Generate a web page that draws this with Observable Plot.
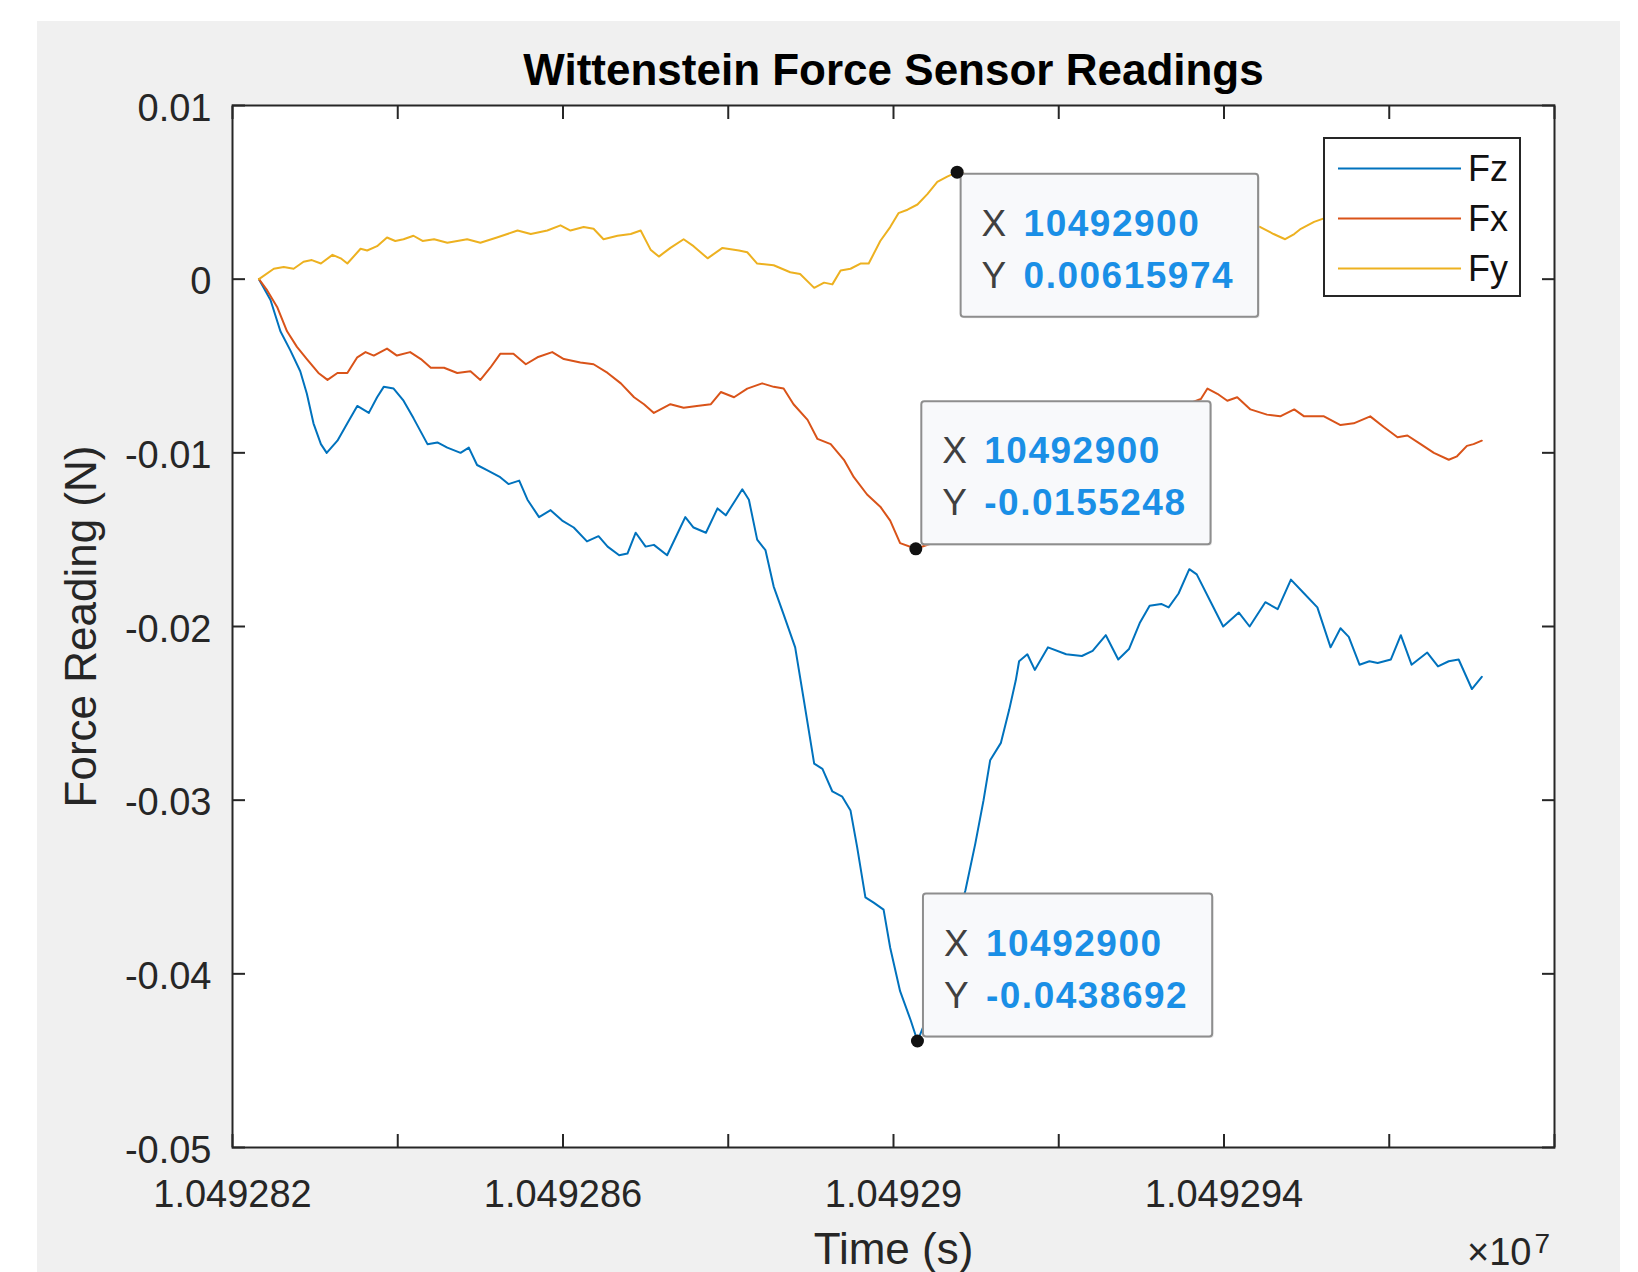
<!DOCTYPE html>
<html>
<head>
<meta charset="utf-8">
<script src="https://cdn.jsdelivr.net/npm/d3@7"></script>
<script src="https://cdn.jsdelivr.net/npm/@observablehq/plot@0.6"></script>
<style>
  html, body { margin: 0; padding: 0; background: #ffffff; }
  #bg { position: absolute; left: 37px; top: 21px; width: 1583px; height: 1251px; background: #f0f0f0; }
  #chart { position: absolute; left: 0; top: 0; }
</style>
</head>
<body>
<div id="bg"></div>
<div id="chart"></div>
<script>
// ---------------- data ----------------
const chartTitle = "Wittenstein Force Sensor Readings";
const xLabel = "Time (s)";
const yLabel = "Force Reading (N)";
const seriesNames = ["Fz", "Fx", "Fy"];
const seriesColors = ["#0072BD", "#D95319", "#EDB120"];

// [time (s), force (N)]
const fzReadings = [
  [10492823.2, 0], [10492824.6, -0.0012], [10492825.8, -0.0030], [10492827.0, -0.0041], [10492828.2, -0.0053],
  [10492829.0, -0.0066], [10492829.8, -0.0083], [10492830.7, -0.0095], [10492831.4, -0.0100], [10492832.7, -0.0093],
  [10492833.9, -0.0083], [10492835.1, -0.0073], [10492836.5, -0.0077], [10492837.5, -0.0068], [10492838.3, -0.0062],
  [10492839.5, -0.0063], [10492840.7, -0.0070], [10492841.9, -0.0080], [10492843.6, -0.0095], [10492844.8, -0.0094],
  [10492846.0, -0.0097], [10492847.6, -0.0100], [10492848.6, -0.0097], [10492849.6, -0.0107], [10492850.8, -0.0110],
  [10492852.4, -0.0114], [10492853.4, -0.0118], [10492854.7, -0.0116], [10492855.7, -0.0127], [10492857.1, -0.0137],
  [10492858.5, -0.0133], [10492859.9, -0.0139], [10492861.3, -0.0143], [10492862.9, -0.0151], [10492864.3, -0.0148],
  [10492865.4, -0.0154], [10492866.8, -0.0159], [10492867.8, -0.0158], [10492868.8, -0.0146], [10492870.0, -0.0154],
  [10492871.0, -0.0153], [10492872.6, -0.0159], [10492873.8, -0.0147], [10492874.8, -0.0137], [10492875.8, -0.0143],
  [10492877.3, -0.0146], [10492878.7, -0.0132], [10492879.7, -0.0136], [10492880.9, -0.0127], [10492881.7, -0.0121],
  [10492882.5, -0.0127], [10492883.5, -0.0150], [10492884.5, -0.0156], [10492885.5, -0.0177], [10492886.7, -0.0193],
  [10492888.1, -0.0212], [10492889.1, -0.0241], [10492890.4, -0.0279], [10492891.4, -0.0282], [10492892.6, -0.0295],
  [10492893.8, -0.0298], [10492894.8, -0.0306], [10492895.6, -0.0327], [10492896.6, -0.0356], [10492897.6, -0.0359],
  [10492898.8, -0.0363], [10492899.6, -0.0385], [10492900.8, -0.0410], [10492902.1, -0.0427], [10492902.9, -0.0438692],
  [10492904.5, -0.0420], [10492906.0, -0.0395], [10492907.5, -0.0372], [10492908.7, -0.0352], [10492909.9, -0.0325],
  [10492910.9, -0.0300], [10492911.7, -0.0277], [10492913.0, -0.0267], [10492914.0, -0.0248], [10492914.8, -0.0231],
  [10492915.2, -0.0220], [10492916.2, -0.0216], [10492917.1, -0.0225], [10492918.7, -0.0212], [10492920.9, -0.0216],
  [10492922.8, -0.0217], [10492924.1, -0.0214], [10492925.7, -0.0205], [10492927.2, -0.0219], [10492928.5, -0.0213],
  [10492929.8, -0.0198], [10492931.0, -0.0188], [10492932.4, -0.0187], [10492933.3, -0.0189], [10492934.5, -0.0181],
  [10492935.8, -0.0167], [10492936.7, -0.0170], [10492938.3, -0.0185], [10492939.9, -0.0200], [10492941.8, -0.0192],
  [10492943.1, -0.0200], [10492945.0, -0.0186], [10492946.5, -0.0190], [10492948.1, -0.0173], [10492949.7, -0.0181],
  [10492951.3, -0.0189], [10492952.9, -0.0212], [10492954.1, -0.0201], [10492955.1, -0.0206], [10492956.4, -0.0222],
  [10492957.6, -0.0220], [10492958.6, -0.0221], [10492960.2, -0.0219], [10492961.4, -0.0205], [10492962.7, -0.0222],
  [10492964.6, -0.0215], [10492965.9, -0.0223], [10492967.2, -0.0220], [10492968.4, -0.0219], [10492970.0, -0.0236],
  [10492971.2, -0.0229]
];

const fxReadings = [
  [10492823.2, 0], [10492824.2, -0.00065], [10492825.4, -0.0016], [10492826.6, -0.0030], [10492827.8, -0.0039],
  [10492829.0, -0.0046], [10492830.4, -0.0054], [10492831.5, -0.0058], [10492832.7, -0.0054], [10492833.9, -0.0054],
  [10492835.1, -0.0045], [10492836.1, -0.0042], [10492837.1, -0.0044], [10492838.7, -0.0040], [10492839.9, -0.0044],
  [10492841.5, -0.0042], [10492842.8, -0.0046], [10492844.0, -0.0051], [10492845.6, -0.0051], [10492847.2, -0.0054],
  [10492848.8, -0.0053], [10492850.0, -0.0058], [10492851.2, -0.0051], [10492852.4, -0.0043], [10492854.0, -0.0043],
  [10492855.5, -0.0049], [10492856.9, -0.0045], [10492858.7, -0.0042], [10492860.1, -0.0046], [10492862.1, -0.0048],
  [10492863.7, -0.0049], [10492865.4, -0.0054], [10492867.0, -0.0060], [10492868.6, -0.0068], [10492869.8, -0.0072],
  [10492871.0, -0.0077], [10492871.8, -0.0075], [10492873.0, -0.0072], [10492874.6, -0.0074], [10492876.2, -0.0073],
  [10492877.9, -0.0072], [10492879.1, -0.0065], [10492880.7, -0.0068], [10492882.3, -0.0063], [10492884.1, -0.0060],
  [10492885.5, -0.0062], [10492886.7, -0.0063], [10492887.9, -0.0072], [10492889.6, -0.0081], [10492890.8, -0.0092],
  [10492892.4, -0.0095], [10492894.0, -0.0104], [10492895.2, -0.0114], [10492896.8, -0.0124], [10492898.4, -0.0131],
  [10492899.6, -0.0139], [10492900.8, -0.0152], [10492902.7, -0.0155248],
  [10492906.0, -0.0150], [10492911.0, -0.0138], [10492916.0, -0.0124], [10492921.0, -0.0110], [10492926.0, -0.0096],
  [10492931.0, -0.0083], [10492935.0, -0.0073],
  [10492937.2, -0.0069], [10492938.0, -0.0063], [10492939.2, -0.0066], [10492940.4, -0.0070], [10492941.6, -0.0068],
  [10492943.2, -0.0075], [10492945.2, -0.0078], [10492946.8, -0.0079], [10492948.5, -0.0075], [10492949.7, -0.0079],
  [10492952.1, -0.0079], [10492954.1, -0.0084], [10492955.7, -0.0083], [10492957.7, -0.0079], [10492959.3, -0.0085],
  [10492961.0, -0.0091], [10492962.2, -0.0090], [10492963.8, -0.0095], [10492965.4, -0.0100], [10492967.2, -0.0104],
  [10492968.2, -0.0102], [10492969.4, -0.0096], [10492970.2, -0.0095], [10492971.2, -0.0093]
];

const fyReadings = [
  [10492823.2, 0], [10492825.0, 0.0006], [10492826.2, 0.0007], [10492827.4, 0.0006], [10492828.6, 0.0010],
  [10492829.6, 0.0011], [10492830.7, 0.0009], [10492832.1, 0.0014], [10492833.1, 0.0012], [10492833.9, 0.0009],
  [10492835.5, 0.00175], [10492836.3, 0.00165], [10492837.5, 0.0019], [10492838.7, 0.0024], [10492839.7, 0.0022],
  [10492840.7, 0.0023], [10492841.9, 0.0025], [10492843.0, 0.0022], [10492844.4, 0.0023], [10492846.0, 0.0021],
  [10492848.4, 0.0023], [10492850.0, 0.0021], [10492852.0, 0.0024], [10492854.5, 0.0028], [10492856.1, 0.0026],
  [10492858.1, 0.0028], [10492859.7, 0.0031], [10492860.9, 0.0028], [10492862.5, 0.0030], [10492863.7, 0.0029],
  [10492864.9, 0.0023], [10492866.6, 0.0025], [10492868.2, 0.0026], [10492869.4, 0.0028], [10492870.6, 0.0017],
  [10492871.6, 0.0013], [10492873.0, 0.0018], [10492874.6, 0.0023], [10492875.8, 0.0019], [10492877.5, 0.0012],
  [10492879.3, 0.0018], [10492881.3, 0.00165], [10492882.3, 0.00155], [10492883.5, 0.0009], [10492885.5, 0.0008],
  [10492887.5, 0.0004], [10492888.7, 0.0003], [10492890.4, -0.0005], [10492891.6, -0.0002], [10492892.6, -0.0003],
  [10492893.6, 0.0005], [10492894.8, 0.0006], [10492896.0, 0.0009], [10492897.0, 0.0009], [10492898.4, 0.0022],
  [10492899.6, 0.0030], [10492900.6, 0.0038], [10492901.7, 0.0040], [10492902.9, 0.0043], [10492904.1, 0.0049],
  [10492905.3, 0.0056], [10492906.5, 0.0059], [10492907.7, 0.00615974],
  [10492912.0, 0.0057], [10492917.0, 0.0050], [10492922.0, 0.0046], [10492927.0, 0.0041], [10492932.0, 0.0038],
  [10492937.0, 0.0035], [10492941.0, 0.0033],
  [10492944.4, 0.0030], [10492946.0, 0.0026], [10492947.4, 0.0023], [10492948.5, 0.0026], [10492949.3, 0.0029],
  [10492950.9, 0.0033], [10492952.1, 0.0035],
  [10492955.0, 0.0036], [10492960.0, 0.0034], [10492966.0, 0.0037], [10492971.2, 0.0036]
];

// data tips
const tipSeries = ["Fy", "Fx", "Fz"];
const tipTime = [10492907.7, 10492902.7, 10492902.9];
const tipValue = [0.00615974, -0.0155248, -0.0438692];
const tipXText = ["10492900", "10492900", "10492900"];
const tipYText = ["0.00615974", "-0.0155248", "-0.0438692"];

// axes
const xDomain = [10492820, 10492980];
const yDomain = [-0.05, 0.01];
const xTicks = [10492820, 10492840, 10492860, 10492880, 10492900, 10492920, 10492940, 10492960, 10492980];
const xTickLabels = ["1.049282", "", "1.049286", "", "1.04929", "", "1.049294", "", ""];
const yTicks = [0.01, 0, -0.01, -0.02, -0.03, -0.04, -0.05];
const yTickLabels = ["0.01", "0", "-0.01", "-0.02", "-0.03", "-0.04", "-0.05"];
const exponentBase = "\u00d710";
const exponentPower = "7";

// ---------------- build table ----------------
const readings = {Fz: fzReadings, Fx: fxReadings, Fy: fyReadings};
const rows = seriesNames.flatMap(s => readings[s].map(([t, v]) => ({series: s, t, v})));
const tips = tipSeries.map((s, i) => ({series: s, t: tipTime[i], v: tipValue[i], xt: tipXText[i], yt: tipYText[i]}));
const xLabelMap = new Map(xTicks.map((t, i) => [t, xTickLabels[i]]));
const yLabelMap = new Map(yTicks.map((t, i) => [t, yTickLabels[i]]));

const FONT = "'Liberation Sans', Arial, Helvetica, sans-serif";
const AXIS_COLOR = "#262626";
const TIP_FONT = 37, TIP_LS = 1.5;
const tipPlacement = {Fy: "below", Fx: "above", Fz: "above"};

const svgNS = "http://www.w3.org/2000/svg";
function el(name, attrs, text) {
  const e = document.createElementNS(svgNS, name);
  for (const k in attrs) e.setAttribute(k, attrs[k]);
  if (text != null) e.textContent = text;
  return e;
}

// data-tip boxes placed from the data point through the scales
function drawTips(index, scales) {
  const g = el("g", {"text-anchor": "start"});
  const ctx = document.createElement("canvas").getContext("2d");
  ctx.font = `bold ${TIP_FONT}px ${FONT}`;
  tips.forEach(tip => {
    const px = scales.x(tip.t), py = scales.y(tip.v);
    const vw = Math.max(ctx.measureText(tip.yt).width, ctx.measureText(tip.xt).width) + tip.yt.length * TIP_LS;
    const w = 63 + vw + 24, h = 143;
    const x0 = tipPlacement[tip.series] === "below" ? px + 4 : px + 6;
    const y0 = tipPlacement[tip.series] === "below" ? py + 2 : py - 4 - h;
    g.appendChild(el("rect", {x: x0 + 1.5, y: y0 + 1.5, width: w, height: h, rx: 3, fill: "#d8d8d8", opacity: 0.6}));
    g.appendChild(el("rect", {x: x0, y: y0, width: w, height: h, rx: 3, fill: "#f8f9fb", stroke: "#8e8e8e", "stroke-width": 2}));
    [["X", tip.xt, 62], ["Y", tip.yt, 114]].forEach(([lab, val, dy]) => {
      g.appendChild(el("text", {x: x0 + 21, y: y0 + dy, "text-anchor": "start", "font-family": FONT, "font-size": TIP_FONT, fill: "#404040"}, lab));
      g.appendChild(el("text", {x: x0 + 63, y: y0 + dy, "text-anchor": "start", "font-family": FONT, "font-size": TIP_FONT, "font-weight": "bold",
        "letter-spacing": TIP_LS, fill: "#1a8fe6"}, val));
    });
  });
  return g;
}

// MATLAB-style legend inside the axes, top-right
function drawLegend(index, scales, values, dims) {
  const g = el("g", {"text-anchor": "start"});
  const right = dims.width - dims.marginRight, top = dims.marginTop;
  const w = 196, h = 158, x0 = right - 34 - w, y0 = top + 33;
  g.appendChild(el("rect", {x: x0, y: y0, width: w, height: h, fill: "#ffffff", stroke: AXIS_COLOR, "stroke-width": 2}));
  seriesNames.forEach((s, i) => {
    const yy = y0 + 30.5 + i * 50;
    g.appendChild(el("line", {x1: x0 + 14, x2: x0 + 137, y1: yy, y2: yy, stroke: scales.color(s), "stroke-width": 2}));
    g.appendChild(el("text", {x: x0 + 144, y: yy + 12.5, "text-anchor": "start", "font-family": FONT, "font-size": 36, fill: "#111"}, s));
  });
  return g;
}

const chart = Plot.plot({
  width: 1638,
  height: 1272,
  marginLeft: 232,
  marginRight: 84,
  marginTop: 105,
  marginBottom: 125,
  style: {background: "transparent", fontFamily: FONT, color: AXIS_COLOR, overflow: "visible"},
  x: {domain: xDomain},
  y: {domain: yDomain},
  color: {domain: seriesNames, range: seriesColors},
  marks: [
    Plot.frame({fill: "#ffffff"}),
    Plot.line(rows, {x: "t", y: "v", z: "series", stroke: "series", strokeWidth: 2}),
    drawTips,
    Plot.dot(tips, {x: "t", y: "v", r: 6.5, fill: "#111111", stroke: "none"}),
    drawLegend,
    Plot.frame({stroke: AXIS_COLOR, strokeWidth: 2}),
    // inward ticks on all four sides
    Plot.axisX({anchor: "bottom", ticks: xTicks, tickSize: -13, tickFormat: () => "", label: null, strokeWidth: 2}),
    Plot.axisX({anchor: "top", ticks: xTicks, tickSize: -13, tickFormat: () => "", label: null, strokeWidth: 2}),
    Plot.axisY({anchor: "left", ticks: yTicks, tickSize: -13, tickFormat: () => "", label: null, strokeWidth: 2}),
    Plot.axisY({anchor: "right", ticks: yTicks, tickSize: -13, tickFormat: () => "", label: null, strokeWidth: 2}),
    // tick labels
    Plot.axisX({anchor: "bottom", ticks: xTicks, tickSize: 0, tickPadding: 33, fontSize: 38,
      tickFormat: d => xLabelMap.get(d) ?? "", label: null}),
    Plot.axisY({anchor: "left", ticks: yTicks, tickSize: 0, tickPadding: 21, fontSize: 38, dy: 3,
      tickFormat: d => yLabelMap.get(d) ?? "", label: null}),
    // axis titles
    Plot.text([xLabel], {frameAnchor: "bottom", text: d => d, textAnchor: "middle", lineAnchor: "bottom", dy: 116, fontSize: 44, fill: AXIS_COLOR}),
    Plot.text([yLabel], {frameAnchor: "left", text: d => d, textAnchor: "middle", lineAnchor: "bottom", rotate: -90, dx: -137, fontSize: 44, fill: AXIS_COLOR}),
    Plot.text([chartTitle], {frameAnchor: "top", text: d => d, textAnchor: "middle", lineAnchor: "bottom", dy: -21, fontSize: 44, fontWeight: "bold", fill: "#000"}),
    // x10^7 exponent
    Plot.text([exponentBase], {frameAnchor: "bottom-right", text: d => d, textAnchor: "end", lineAnchor: "bottom", dx: -23, dy: 117, fontSize: 38, fill: AXIS_COLOR}),
    Plot.text([exponentPower], {frameAnchor: "bottom-right", text: d => d, textAnchor: "start", lineAnchor: "bottom", dx: -20, dy: 105, fontSize: 28, fill: AXIS_COLOR})
  ]
});
document.getElementById("chart").appendChild(chart);
</script>
</body>
</html>
